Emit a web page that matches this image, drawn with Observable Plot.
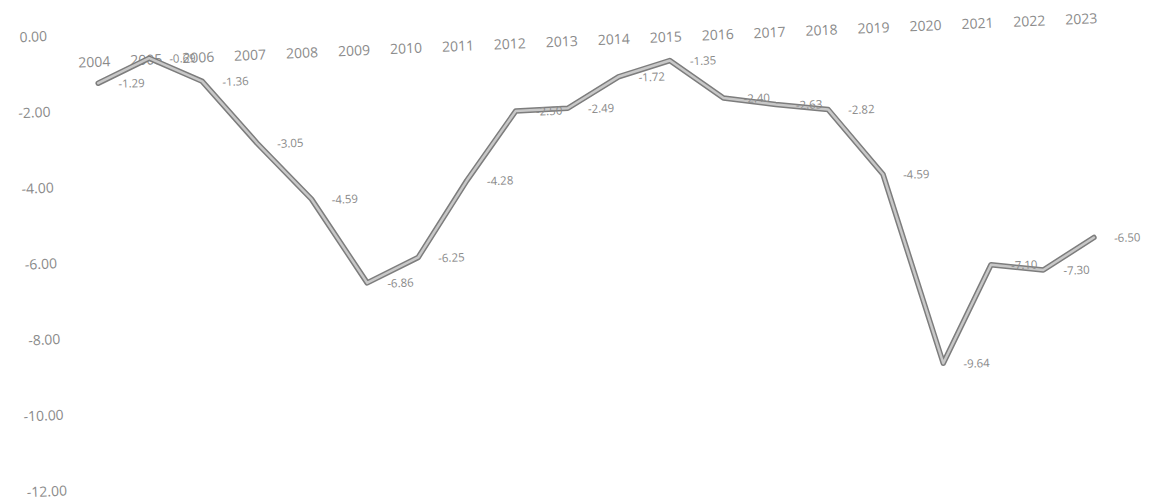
<!DOCTYPE html>
<html>
<head>
<meta charset="utf-8">
<script src="https://cdn.jsdelivr.net/npm/d3@7"></script>
<script src="https://cdn.jsdelivr.net/npm/@observablehq/plot@0.6"></script>
<style>
  html, body { margin: 0; padding: 0; background: #ffffff; overflow: hidden; }
  #chart svg { transform: rotate(-2.5deg); transform-origin: 0 0; display: block; }
</style>
</head>
<body>
<div id="chart"></div>
<script>
const years = ["2004","2005","2006","2007","2008","2009","2010","2011","2012","2013",
               "2014","2015","2016","2017","2018","2019","2020","2021","2022","2023"];
const values = [-1.29, -0.69, -1.36, -3.05, -4.59, -6.86, -6.25, -4.28, -2.50, -2.49,
                -1.72, -1.35, -2.40, -2.63, -2.82, -4.59, -9.64, -7.10, -7.30, -6.50];
const yTicks = [0, -2, -4, -6, -8, -10, -12];

const data = years.map((year, i) => ({year, value: values[i]}));
const yearRows = years.map(year => ({year, zero: 0}));

const chart = Plot.plot({
  width: 1159,
  height: 504,
  marginLeft: 63,
  marginRight: 47,
  marginTop: 38,
  marginBottom: 11,
  x: {type: "point", domain: years, padding: 0.5, axis: null},
  y: {domain: [-12, 0], axis: null},
  style: {fontFamily: "'Open Sans', sans-serif", background: "#ffffff"},
  marks: [
    Plot.axisY({ticks: yTicks, tickFormat: d => d.toFixed(2), tickSize: 0, tickPadding: 18,
                fontSize: 14, color: "#8a8a8a", fill: "#8a8a8a"}),
    Plot.text(yearRows, {x: "year", y: "zero", text: "year", dy: 28, dx: -3,
                         fontSize: 14, fill: "#8a8a8a"}),
    Plot.line(data, {x: "year", y: "value", stroke: "#7d7d7d", strokeWidth: 5.5}),
    Plot.line(data, {x: "year", y: "value", stroke: "#c8c8c8", strokeWidth: 2.5}),
    Plot.text(data, {x: "year", y: "value", text: d => d.value.toFixed(2),
                     textAnchor: "start", dx: 20, dy: 2, fontSize: 11.5, fill: "#8a8a8a"})
  ]
});
document.getElementById("chart").appendChild(chart);
</script>
</body>
</html>
